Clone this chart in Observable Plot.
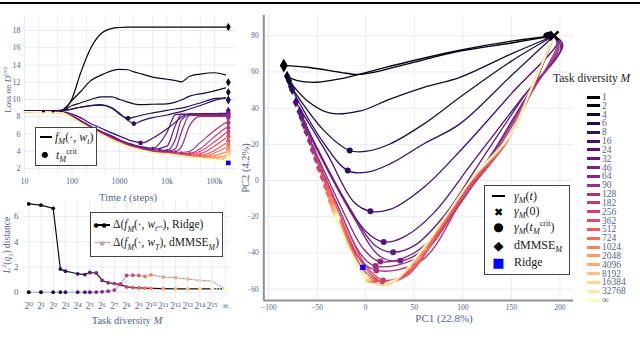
<!DOCTYPE html>
<html><head><meta charset="utf-8">
<script src="https://cdn.jsdelivr.net/npm/d3@7"></script>
<script src="https://cdn.jsdelivr.net/npm/@observablehq/plot@0.6"></script>
<style>
body{margin:0;background:#fff}
#fig{position:relative;width:640px;height:341px;overflow:hidden;background:#fff;font-family:"Liberation Serif","DejaVu Serif",serif}
.lab{position:absolute;white-space:nowrap;line-height:1}
.box{position:absolute;border:1px solid #444;background:#fff;box-sizing:border-box}
sub,sup{font-size:68%;line-height:0}
</style></head>
<body><div id="fig"></div>
<script>
// ---------------- DATA ----------------
const mLabels = ["1","2","4","6","8","16","24","32","46","64","90","128","182","256","362","512","724","1024","2048","4096","8192","16384","32768","∞"];
const steps = [10,60,100,150,250,400,700,1000,1500,2000,3000,5000,10000,15000,20000,30000,50000,100000,170000];
const lossByM = [
 [8.65,8.7,10.1,13.0,16.0,17.6,18.25,18.35,18.4,18.4,18.4,18.4,18.4,18.4,18.4,18.4,18.4,18.4,18.4],
 [8.65,8.75,9.9,10.9,12.2,12.8,13.35,13.5,13.45,13.2,12.95,12.6,12.35,12.2,12.05,12.7,12.95,13.1,12.85],
 [8.65,8.7,9.3,9.6,10.0,10.3,10.3,10.0,9.7,9.5,9.4,9.45,9.5,9.7,9.95,10.4,10.65,11.0,11.35],
 [8.65,8.7,8.9,9.1,9.3,9.4,9.0,8.3,7.82,7.95,8.2,8.45,8.75,8.9,9.0,9.25,9.6,10.1,10.2],
 [8.65,8.7,8.9,9.1,9.3,9.35,9.0,8.4,7.6,7.2,7.55,7.9,8.2,8.45,8.6,8.9,9.3,9.9,10.15],
 [8.65,8.6,8.3,7.9,7.2,6.7,6.1,5.75,5.35,5.15,4.97,5.5,6.6,7.35,7.95,8.33,8.35,8.38,8.4],
 [8.6,8.5,8.1,7.6,6.9,6.35,5.75,5.35,4.95,4.75,4.5,4.35,6.2,8.25,8.3,8.32,8.33,8.34,8.35],
 [8.6,8.5,8.05,7.5,6.8,6.3,5.65,5.3,4.9,4.7,4.45,4.25,4.6,7.0,8.25,8.28,8.28,8.3,8.3],
 [8.6,8.5,8.0,7.45,6.75,6.2,5.6,5.2,4.8,4.6,4.35,4.15,4.1,5.4,7.6,8.2,8.22,8.23,8.25],
 [8.6,8.5,8.0,7.4,6.7,6.15,5.5,5.15,4.75,4.5,4.3,4.05,3.98,4.3,6.2,8.15,8.15,8.15,8.15],
 [8.6,8.48,7.95,7.4,6.7,6.1,5.45,5.1,4.7,4.5,4.25,4.0,3.9,3.95,4.5,7.0,8.05,8.05,8.05],
 [8.6,8.48,7.95,7.35,6.65,6.1,5.4,5.05,4.65,4.45,4.2,3.95,3.85,3.82,3.85,4.0,5.0,6.4,7.3],
 [8.6,8.47,7.92,7.35,6.65,6.05,5.4,5.02,4.62,4.42,4.18,3.92,3.8,3.75,3.72,3.75,4.3,5.7,6.7],
 [8.6,8.47,7.92,7.33,6.62,6.05,5.38,5.0,4.6,4.4,4.16,3.9,3.78,3.7,3.66,3.65,4.0,5.1,6.1],
 [8.6,8.46,7.9,7.32,6.62,6.03,5.37,4.99,4.59,4.39,4.15,3.88,3.75,3.65,3.6,3.55,3.7,4.6,5.5],
 [8.6,8.46,7.9,7.31,6.61,6.02,5.36,4.98,4.58,4.38,4.14,3.87,3.73,3.62,3.55,3.48,3.5,4.1,4.9],
 [8.6,8.45,7.9,7.31,6.6,6.02,5.35,4.97,4.57,4.37,4.13,3.86,3.72,3.6,3.52,3.42,3.4,3.8,4.4],
 [8.6,8.45,7.9,7.3,6.6,6.01,5.34,4.96,4.56,4.36,4.12,3.85,3.7,3.58,3.5,3.38,3.33,3.5,3.9],
 [8.6,8.45,7.89,7.3,6.6,6.0,5.33,4.95,4.55,4.35,4.11,3.84,3.69,3.57,3.48,3.36,3.28,3.3,3.5],
 [8.6,8.45,7.89,7.3,6.59,6.0,5.32,4.95,4.55,4.35,4.1,3.83,3.68,3.56,3.47,3.34,3.25,3.2,3.3],
 [8.6,8.44,7.88,7.29,6.59,5.99,5.32,4.94,4.54,4.34,4.1,3.83,3.67,3.55,3.46,3.33,3.22,3.12,3.15],
 [8.6,8.44,7.88,7.29,6.58,5.99,5.31,4.94,4.54,4.34,4.09,3.82,3.67,3.55,3.45,3.32,3.2,3.08,3.07],
 [8.6,8.44,7.88,7.28,6.58,5.98,5.31,4.93,4.53,4.33,4.09,3.82,3.66,3.54,3.45,3.31,3.18,3.05,3.03],
 [8.6,8.44,7.87,7.28,6.57,5.98,5.3,4.93,4.53,4.33,4.08,3.81,3.66,3.54,3.44,3.3,3.17,3.03,3.0]
];
const tcritStep = [25,40,60,1520,2000,2770,5000,7000,10000,12000,15000,20000,30000,30000,50000,50000,60000,80000,100000,120000,150000,170000,170000,170000];
const tcritLoss = [8.65,8.65,8.68,7.82,7.2,4.97,4.35,4.2,4.1,4.0,3.95,3.85,3.75,3.65,3.7,3.5,3.45,3.45,3.3,3.2,3.13,3.07,3.03,3.0];
const endStep = 195000;
const endLoss = [18.4,12.0,10.85,10.0,9.9,8.7,8.45,8.3,8.15,8.0,7.9,7.3,6.7,6.2,5.7,5.2,4.75,4.35,4.05,3.8,3.6,3.45,3.3,3.2];
const ridgeLoss = 2.65;
const timeTicks = [10,20,50,100,200,500,1000,2000,5000,10000,20000,50000,100000];
const timeMajorLabels = {10:"10",100:"100",1000:"1000",10000:"10k",100000:"100k"};
const lossTicks = [2,4,6,8,10,12,14,16,18];

const infPos = 16.08;
const deltaRidge = [7.0,6.9,6.65,1.83,1.67,1.46,1.4,1.56,1.52,0.93,0.75,0.68,0.6,0.42,0.37,0.34,0.32,0.3,0.28,0.27,0.27,0.27,0.27,0.25];
const deltaDmmse = [0,0,0,0,0,0,0,0,0.01,0.03,0.08,0.17,0.65,1.33,1.35,1.33,1.25,1.38,1.2,1.15,1.05,0.93,0.88,0.25];
const distTicks = [0,2,4,6];

const pcaPaths = [
 [[194,80],[150,76],[97,71.5],[43,64.5],[8,59.8],[-9,58.6],[-26,59.8],[-60,62.6],[-84.4,63.5]],
 [[194,80],[150,77],[97,72],[43,65.5],[8,60.8],[-26,56.2],[-50,54.3],[-70.6,55.2],[-81,57.6]],
 [[194,80],[150,70],[97,57],[60,51.5],[25,45],[-5.5,38.5],[-36.4,37.2],[-60,44],[-79,55.2]],
 [[194,80],[150,66],[97,46],[60,31.3],[25,20.2],[1.4,16.2],[-16.5,16.6],[-43,27.6],[-76.9,51.9]],
 [[194,80],[150,58],[97,31.3],[60,20.3],[25,9.2],[1.4,4.6],[-18.5,5.5],[-45,22],[-75.8,50.3]],
 [[194,80],[198,77],[150,48],[100,18],[60,-3.7],[25,-16],[4.8,-17],[-12,-12],[-40,15],[-72,43.3]],
 [[194,80],[203,75],[160,45],[110,10],[70,-18],[40,-31],[18.5,-34],[0,-28],[-30,-3],[-68,38]],
 [[194,80],[202,74],[165,48],[120,12],[80,-20],[50,-36],[28.2,-39.6],[10,-36],[-20,-12],[-66,35]],
 [[194,80],[201,73],[170,50],[130,15],[95,-12],[60,-38],[35.7,-44.4],[15,-42],[-15,-18],[-63.5,31]],
 [[194,80],[199,73],[168,48],[125,10],[90,-18],[50,-40],[15.1,-44.8],[-2,-38],[-25,-15],[-61,27]],
 [[194,80],[198,74],[168,47],[128,12],[95,-14],[55,-42],[10,-47.3],[-6,-40],[-28,-15],[-57.5,22]],
 [[194,80],[197,75],[168,46],[132,14],[98,-12],[58,-44],[11,-49.7],[-8,-42],[-30,-15],[-54.5,17]],
 [[194,80],[170,48],[140,18],[103,-8],[70,-34],[40,-52],[18,-55],[0,-47],[-28,-15],[-51,12]],
 [[194,80],[170,49],[142,19],[105,-6],[72,-32],[42,-52],[17,-56],[-2,-47],[-28,-18],[-48,7]],
 [[194,80],[170,50],[144,20],[106,-4],[74,-30],[44,-52],[16,-56.5],[-4,-48],[-26,-20],[-44.5,2]],
 [[194,80],[170,50],[145,21],[107,-2],[76,-28],[46,-50],[15,-57],[-6,-48],[-25,-22],[-41,-3]],
 [[194,80],[170,50],[145,22],[108,-1],[77,-26],[48,-48],[18,-56],[-4,-50],[-22,-28],[-38.5,-7]],
 [[194,80],[170,50],[146,22],[108,0],[77,-25],[49,-46],[20,-57],[0,-52],[-20,-32],[-36,-11]],
 [[194,80],[170,51],[146,23],[109,0],[78,-24],[50,-45],[22,-57],[2,-54],[-18,-36],[-34,-14]],
 [[194,80],[171,51],[147,23],[110,1],[79,-23],[51,-44],[24,-57],[4,-55],[-16,-38],[-32.5,-16]],
 [[194,80],[171,51],[147,24],[110,2],[80,-22],[52,-43],[26,-57],[5,-56],[-15,-40],[-31,-18]],
 [[194,80],[172,52],[148,24],[111,2],[81,-21],[53,-42],[27,-56.5],[6,-56],[-14,-41],[-30.5,-19]],
 [[194,80],[172,52],[148,25],[112,3],[82,-20],[54,-41],[28,-56],[7,-56],[-13,-42],[-30,-20]],
 [[194,80],[172,53],[149,25],[112,3],[83,-19],[55,-40],[29,-55],[8,-56],[-12,-43],[-29,-21]]
];
const tcritPC1 = [186,188,190,-16.5,-18.5,4.8,18.5,28.2,35.7,15.1,10,11,18,17,10,8,6,5,4,3,2,1,0,-1];
const tcritPC2 = [80,80.5,80,16.6,5.5,-17,-34,-39.6,-44.4,-44.8,-47.3,-49.7,-55,-56,-55,-55,-54,-55,-55,-55,-54,-54,-53,-53];
const initPC = [194,80];
const ridgePC = [-3,-48];
const pc1Ticks = [-100,-50,0,50,100,150,200];
const pc2Ticks = [-60,-40,-20,0,20,40,60,80];

// ---------------- STYLE ----------------
const serif = '"Liberation Serif","DejaVu Serif",serif';
const tickColor = "#52648a";
const gridColor = "#e6ebf4";
const colors = mLabels.map((_, i) => d3.interpolateMagma(i / 23));
const fig = document.getElementById("fig");
const baseStyle = {background: "transparent", fontFamily: serif, fontSize: "8px", color: tickColor, overflow: "visible"};
function place(svg, left, top) {
  svg.style.position = "absolute"; svg.style.left = left + "px"; svg.style.top = top + "px";
  fig.appendChild(svg);
}
function addHTML(html, left, top, style) {
  const d = document.createElement("div");
  d.className = "lab"; d.innerHTML = html;
  Object.assign(d.style, {left: left + "px", top: top + "px"}, style || {});
  fig.appendChild(d); return d;
}
function addBox(left, top, w, h) {
  const d = document.createElement("div"); d.className = "box";
  Object.assign(d.style, {left: left + "px", top: top + "px", width: w + "px", height: h + "px"});
  fig.appendChild(d);
}
function addRect(left, top, w, h, color, extra) {
  const d = document.createElement("div");
  Object.assign(d.style, {position: "absolute", left: left + "px", top: top + "px", width: w + "px", height: h + "px", background: color}, extra || {});
  fig.appendChild(d);
}

// top rule of the page
addRect(0, 2, 640, 2, "#000");

// ---------------- PANEL 1: loss vs time ----------------
const lossRows = lossByM.flatMap((vals, i) => vals.map((v, j) => ({t: steps[j], loss: v, m: i})));
const tcritRows = tcritStep.map((t, i) => ({t, loss: tcritLoss[i], m: i}));
const endRows = endLoss.map((v, i) => ({t: endStep, loss: v, m: i}));
const p1 = Plot.plot({
  width: 240, height: 200, marginLeft: 24, marginRight: 4, marginTop: 15, marginBottom: 25,
  style: baseStyle,
  x: {type: "log", domain: [10, 290000], axis: null},
  y: {domain: [1.19, 19.74], axis: null},
  color: {type: "identity"},
  marks: [
    Plot.gridX(timeTicks, {stroke: gridColor, strokeOpacity: 1}),
    Plot.gridY(lossTicks, {stroke: gridColor, strokeOpacity: 1}),
    Plot.axisX(timeTicks.filter(t => timeMajorLabels[t]), {tickSize: 0, tickPadding: 3, label: null, tickFormat: t => timeMajorLabels[t], fontSize: 8, fill: tickColor}),
    Plot.axisX(timeTicks.filter(t => !timeMajorLabels[t]), {tickSize: 0, tickPadding: 3, label: null, tickFormat: t => String(t).charAt(0), fontSize: 6, fill: tickColor}),
    Plot.axisY(lossTicks, {tickSize: 0, tickPadding: 4, label: null, fontSize: 8, fill: tickColor}),
    Plot.line(lossRows, {x: "t", y: "loss", z: "m", stroke: d => colors[d.m], strokeWidth: 1.2, curve: "monotone-x"}),
    Plot.dot(tcritRows.filter(d => d.m >= 3 && d.m <= 5), {x: "t", y: "loss", fill: d => colors[d.m], r: 2.3}),
    Plot.dot(tcritRows.filter(d => d.m < 3 || d.m > 5), {x: "t", y: "loss", fill: d => colors[d.m], r: 1.4}),
    Plot.dot(endRows, {x: "t", y: "loss", fill: d => colors[d.m], stroke: d => colors[d.m], r: 1.6, symbol: "diamond"}),
    Plot.dot([{t: endStep, loss: ridgeLoss}], {x: "t", y: "loss", fill: "#0000ff", symbol: "square", r: 2.6})
  ]
});
place(p1, 0, 0);
addHTML("Loss on <i>D</i><sup>(∞)</sup>", 8, 90, {fontSize: "9px", color: tickColor, transform: "translate(-50%,-50%) rotate(-90deg)"});
addHTML("Time <i>t</i> (steps)", 128, 198, {fontSize: "10.5px", color: tickColor, transform: "translate(-50%,-50%)"});
addBox(35, 127, 62, 39);
addRect(40, 136, 12, 2, "#000");
addHTML("<i>f<sub>M</sub></i>(·, <i>w<sub>t</sub></i>)", 55, 137, {fontSize: "12px", color: "#222", transform: "translateY(-50%)"});
addHTML("●", 45, 155, {fontSize: "8px", color: "#000", fontFamily: "DejaVu Sans", transform: "translate(-50%,-50%)"});
addHTML("<i>t</i><sub><i>M</i></sub><sup>crit</sup>", 56, 155, {fontSize: "12px", color: "#222", transform: "translateY(-50%)"});

// ---------------- PANEL 2: L2 distance vs task diversity ----------------
const xPos = i => i === 23 ? infPos : Math.log2(+mLabels[i]);
const ridgeRows = deltaRidge.map((v, i) => ({x: xPos(i), y: v, m: i}));
const dmRows = deltaDmmse.map((v, i) => ({x: xPos(i), y: v, m: i}));
const supDigits = "⁰¹²³⁴⁵⁶⁷⁸⁹";
const supStr = n => String(n).split("").map(c => supDigits[+c]).join("");
const distXTicks = d3.range(0, 16).concat([infPos]);
const p2 = Plot.plot({
  width: 240, height: 151, marginLeft: 23, marginRight: 10, marginTop: 10, marginBottom: 43,
  style: baseStyle,
  x: {domain: [-0.43, 16.5], axis: null},
  y: {domain: [-0.5, 7.27], axis: null},
  color: {type: "identity"},
  marks: [
    Plot.gridX(distXTicks, {stroke: gridColor, strokeOpacity: 1}),
    Plot.gridY(distTicks, {stroke: gridColor, strokeOpacity: 1}),
    Plot.axisX(distXTicks, {tickSize: 0, tickPadding: 4, label: null, tickFormat: v => v === infPos ? "∞" : "2" + supStr(v), fontSize: 9.5, fill: tickColor}),
    Plot.axisY(distTicks, {tickSize: 0, tickPadding: 5, label: null, fontSize: 9, fill: tickColor}),
    Plot.line(dmRows.slice(0, 23), {x: "x", y: "y", stroke: "#8d9cc0", strokeWidth: 1.1, strokeDasharray: "3,1.5,1,1.5"}),
    Plot.line(dmRows.slice(22), {x: "x", y: "y", stroke: "#8d9cc0", strokeWidth: 1.1, strokeDasharray: "1,1.8"}),
    Plot.line(ridgeRows.slice(0, 23), {x: "x", y: "y", stroke: "#111", strokeWidth: 1.2}),
    Plot.line(ridgeRows.slice(22), {x: "x", y: "y", stroke: "#111", strokeWidth: 1.2, strokeDasharray: "1,1.8"}),
    Plot.dot(dmRows, {x: "x", y: "y", fill: d => colors[d.m], r: 1.9}),
    Plot.dot(ridgeRows, {x: "x", y: "y", fill: d => colors[d.m], r: 1.9})
  ]
});
place(p2, 0, 190);
addHTML("<i>L</i><sup>2</sup>(<i>q</i><sub>1</sub>) distance", 8, 245, {fontSize: "9.5px", color: tickColor, transform: "translate(-50%,-50%) rotate(-90deg)"});
addHTML("Task diversity <i>M</i>", 127, 321, {fontSize: "10.5px", color: tickColor, transform: "translate(-50%,-50%)"});
addBox(90, 212, 133, 45);
addRect(95, 224, 15, 1.5, "#000");
addHTML("●", 96, 225, {fontSize: "6px", color: "#000", fontFamily: "DejaVu Sans", transform: "translate(-50%,-50%)"});
addHTML("●", 104, 225, {fontSize: "6px", color: "#000", fontFamily: "DejaVu Sans", transform: "translate(-50%,-50%)"});
addHTML("Δ(<i>f<sub>M</sub></i>(·, <i>w</i><sub><i>t</i><span style='font-size:75%'><sup>crit</sup></span></sub>), Ridge)", 113, 225, {fontSize: "11.5px", color: "#222", transform: "translateY(-50%)"});
addRect(95, 242, 15, 1.2, "transparent", {borderTop: "1.3px dashed #8d9cc0"});
addHTML("●", 102, 243, {fontSize: "6px", color: "#c9a0b0", fontFamily: "DejaVu Sans", transform: "translate(-50%,-50%)"});
addHTML("Δ(<i>f<sub>M</sub></i>(·, <i>w<sub>T</sub></i>), dMMSE<sub><i>M</i></sub>)", 113, 243, {fontSize: "11.5px", color: "#222", transform: "translateY(-50%)"});

// ---------------- PANEL 3: PCA trajectories ----------------
const pcaRows = pcaPaths.flatMap((pts, i) => pts.map(([x, y], k) => ({x, y, m: i, k})));
const diamondRows = pcaPaths.map((pts, i) => ({x: pts[pts.length - 1][0], y: pts[pts.length - 1][1], m: i}));
const pcaTcritRows = tcritPC1.map((x, i) => ({x, y: tcritPC2[i], m: i}));
const p3 = Plot.plot({
  width: 340, height: 341, marginLeft: 23.3, marginRight: 7, marginTop: 15, marginBottom: 41,
  style: baseStyle,
  x: {domain: [-105, 214], axis: null},
  y: {domain: [-66.3, 91.2], axis: null},
  color: {type: "identity"},
  marks: [
    Plot.gridX(pc1Ticks, {stroke: gridColor, strokeOpacity: 1}),
    Plot.gridY(pc2Ticks, {stroke: gridColor, strokeOpacity: 1}),
    Plot.axisX(pc1Ticks, {tickSize: 0, tickPadding: 4, label: null, fontSize: 7.5, fill: tickColor, tickFormat: d => d < 0 ? "−" + (-d) : String(d)}),
    Plot.axisY(pc2Ticks, {tickSize: 0, tickPadding: 5, label: null, fontSize: 7.5, fill: tickColor, tickFormat: d => d < 0 ? "−" + (-d) : String(d)}),
    Plot.ruleX([-105], {stroke: "#8f8f8f", strokeWidth: 2}),
    Plot.ruleY([-66.3], {stroke: "#8f8f8f", strokeWidth: 2}),
    Plot.line(pcaRows, {x: "x", y: "y", z: "m", stroke: d => colors[d.m], strokeWidth: 1.3, curve: "catmull-rom"}),
    Plot.dot(diamondRows.filter(d => d.m === 0), {x: "x", y: "y", fill: d => colors[d.m], symbol: "diamond", r: 4.2}),
    Plot.dot(diamondRows.filter(d => d.m > 0), {x: "x", y: "y", fill: d => colors[d.m], symbol: "diamond", r: 3.3}),
    Plot.dot(pcaTcritRows.filter(d => d.m < 12), {x: "x", y: "y", fill: d => colors[d.m], r: 3}),
    Plot.dot(pcaTcritRows.filter(d => d.m >= 12), {x: "x", y: "y", fill: d => colors[d.m], r: 2.6}),
    Plot.dot([{x: ridgePC[0], y: ridgePC[1]}], {x: "x", y: "y", fill: "#0000ff", symbol: "square", r: 3}),
    Plot.dot([{x: initPC[0], y: initPC[1]}], {x: "x", y: "y", stroke: "#000", symbol: "times", r: 4, strokeWidth: 2.6})
  ]
});
place(p3, 240, 0);
addHTML("PC2 (4.2%)", 246, 168, {fontSize: "10.5px", color: tickColor, transform: "translate(-50%,-50%) rotate(-90deg)"});
addHTML("PC1 (22.8%)", 444, 318, {fontSize: "11px", color: tickColor, transform: "translate(-50%,-50%)"});

// inner legend
addBox(484, 185, 86, 90);
addRect(492, 195, 13, 2.2, "#000");
addHTML("<i>γ<sub>M</sub></i>(<i>t</i>)", 514, 196, {fontSize: "12px", color: "#222", transform: "translateY(-50%)"});
addHTML("✖", 498.5, 211.5, {fontSize: "11px", color: "#000", fontFamily: "DejaVu Sans", transform: "translate(-50%,-50%)"});
addHTML("<i>γ<sub>M</sub></i>(0)", 514, 211, {fontSize: "12px", color: "#222", transform: "translateY(-50%)"});
addHTML("●", 498.5, 227, {fontSize: "12px", color: "#000", fontFamily: "DejaVu Sans", transform: "translate(-50%,-50%)"});
addHTML("<i>γ<sub>M</sub></i>(<i>t</i><sub><i>M</i></sub><sup>crit</sup>)", 514, 227, {fontSize: "12px", color: "#222", transform: "translateY(-50%)"});
addHTML("◆", 498.5, 245, {fontSize: "13px", color: "#000", fontFamily: "DejaVu Sans", transform: "translate(-50%,-50%)"});
addHTML("dMMSE<sub><i>M</i></sub>", 514, 245, {fontSize: "12px", color: "#222", transform: "translateY(-50%)"});
addHTML("■", 498.5, 262, {fontSize: "13px", color: "#0000ff", fontFamily: "DejaVu Sans", transform: "translate(-50%,-50%)"});
addHTML("Ridge", 514, 262, {fontSize: "12px", color: "#222", transform: "translateY(-50%)"});

// right legend
addHTML("Task diversity <i>M</i>", 553, 79, {fontSize: "11.5px", color: "#222", transform: "translateY(-50%)"});
mLabels.forEach((lab, i) => {
  const y = 97 + i * 8.83;
  addRect(587, y - 1.5, 13, 3, colors[i]);
  addHTML(lab, 602, y, {fontSize: "9.5px", lineHeight: "0.88", color: tickColor, transform: "translateY(-50%)"});
});
</script>
</body></html>
